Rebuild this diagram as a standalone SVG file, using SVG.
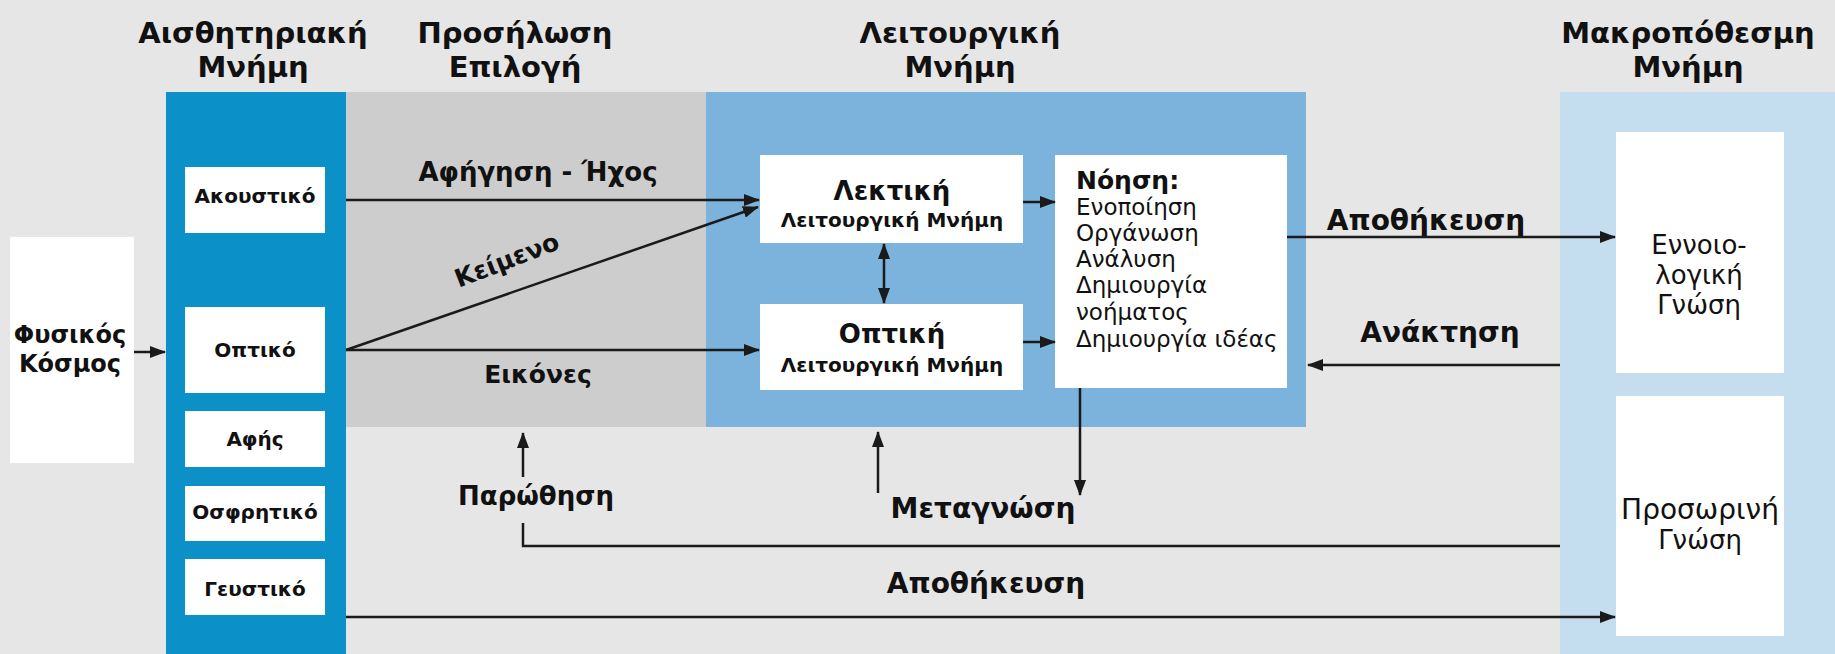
<svg xmlns="http://www.w3.org/2000/svg" width="1835" height="654" viewBox="0 0 1835 654">
<defs>
<style>
text{font-family:"DejaVu Sans","Noto Sans",sans-serif;fill:#111;}
.t{font-size:29px;font-weight:bold;text-anchor:middle;}
.lb{font-size:28px;font-weight:bold;text-anchor:middle;}
.lm{font-size:25px;font-weight:bold;text-anchor:middle;}
.sb{font-size:20px;font-weight:bold;text-anchor:middle;}
.box{fill:#ffffff;}
.c{stroke:#1a1a1a;stroke-width:2.5;fill:none;}
.a{marker-end:url(#ah);}
.n{font-size:23px;}
</style>
<marker id="ah" markerUnits="userSpaceOnUse" markerWidth="16" markerHeight="12" refX="15" refY="6" orient="auto-start-reverse">
<path d="M0,0 L16,6 L0,12 Z" fill="#1a1a1a"/>
</marker>
</defs>
<rect x="0" y="0" width="1835" height="654" fill="#e6e6e6"/>

<!-- bands -->
<rect x="346" y="92" width="360" height="335" fill="#cdcdcd"/>
<rect x="706" y="92" width="600" height="335" fill="#7cb3dc"/>
<rect x="1560" y="92" width="275" height="562" fill="#c4ddef"/>
<rect x="166" y="92" width="180" height="562" fill="#0b90c8"/>

<!-- titles -->
<g id="title-sensory"><text class="t" x="253" y="43">Αισθητηριακή</text><text class="t" x="253" y="77">Μνήμη</text></g>
<g id="title-attention"><text class="t" x="515" y="43">Προσήλωση</text><text class="t" x="515" y="77">Επιλογή</text></g>
<g id="title-working"><text class="t" x="960" y="43">Λειτουργική</text><text class="t" x="960" y="77">Μνήμη</text></g>
<g id="title-longterm"><text class="t" x="1688" y="43">Μακροπόθεσμη</text><text class="t" x="1688" y="77">Μνήμη</text></g>

<!-- nodes -->
<g id="physical-world"><rect class="box" x="10" y="237" width="124" height="226"/><text class="lm" x="70" y="343" style="font-size:24px">Φυσικός</text><text class="lm" x="70" y="372" style="font-size:24px">Κόσμος</text></g>

<g id="acoustic"><rect class="box" x="185" y="167" width="140" height="66"/><text class="sb" x="255" y="203">Ακουστικό</text></g>
<g id="visual"><rect class="box" x="185" y="307" width="140" height="86"/><text class="sb" x="255" y="357">Οπτικό</text></g>
<g id="touch"><rect class="box" x="185" y="411" width="140" height="56"/><text class="sb" x="255" y="446">Αφής</text></g>
<g id="smell"><rect class="box" x="185" y="486" width="140" height="55"/><text class="sb" x="255" y="519">Οσφρητικό</text></g>
<g id="taste"><rect class="box" x="185" y="559" width="140" height="56"/><text class="sb" x="255" y="596">Γευστικό</text></g>

<g id="verbal-wm"><rect class="box" x="760" y="155" width="263" height="88"/><text class="lm" x="892" y="200" style="font-size:26px">Λεκτική</text><text class="sb" x="892" y="227">Λειτουργική Μνήμη</text></g>
<g id="visual-wm"><rect class="box" x="760" y="304" width="263" height="86"/><text class="lm" x="892" y="343" style="font-size:26px">Οπτική</text><text class="sb" x="892" y="372">Λειτουργική Μνήμη</text></g>

<g id="cognition"><rect class="box" x="1055" y="155" width="232" height="233"/>
<text x="1076" y="189" style="font-size:25px;font-weight:bold">Νόηση:</text>
<text class="n" x="1076" y="215">Ενοποίηση</text>
<text class="n" x="1076" y="241">Οργάνωση</text>
<text class="n" x="1076" y="267">Ανάλυση</text>
<text class="n" x="1076" y="293">Δημιουργία</text>
<text class="n" x="1076" y="320">νοήματος</text>
<text class="n" x="1076" y="347">Δημιουργία ιδέας</text>
</g>

<g id="conceptual"><rect class="box" x="1616" y="132" width="168" height="241"/><text class="lm" x="1699" y="254" style="font-weight:normal;font-size:26px">Εννοιο-</text><text class="lm" x="1699" y="284" style="font-weight:normal;font-size:26px">λογική</text><text class="lm" x="1699" y="314" style="font-weight:normal;font-size:26px">Γνώση</text></g>
<g id="temporary"><rect class="box" x="1616" y="396" width="168" height="240"/><text class="lm" x="1700" y="519" style="font-weight:normal;font-size:28px">Προσωρινή</text><text class="lm" x="1700" y="549" style="font-weight:normal;font-size:26px">Γνώση</text></g>

<!-- connectors -->
<g id="connectors">
<path class="c a" d="M134,352 H165"/>
<path class="c a" d="M346,200 H759"/>
<path class="c a" d="M346,350 L758,207"/>
<path class="c a" d="M346,350 H759"/>
<path class="c a" d="M1023,202 H1055"/>
<path class="c a" d="M1023,342 H1055"/>
<path class="c a" d="M884,244 V303" style="marker-start:url(#ah)"/>
<path class="c a" d="M1287,237 H1615"/>
<path class="c a" d="M1560,365 H1308"/>
<path class="c a" d="M1080,388 V495"/>
<path class="c a" d="M878,493 V432"/>
<path class="c a" d="M523,477 V433"/>
<path class="c" d="M1560,546 H523 V523"/>
<path class="c a" d="M346,617 H1615"/>
</g>

<!-- connector labels -->
<g id="labels">
<text class="lm" x="538" y="181" style="font-size:26px">Αφήγηση - Ήχος</text>
<text class="lm" x="0" y="0" transform="translate(510,268) rotate(-21)">Κείμενο</text>
<text class="lm" x="538" y="383">Εικόνες</text>
<text class="lm" x="536" y="505" style="font-size:26px">Παρώθηση</text>
<text class="lb" x="983" y="518">Μεταγνώση</text>
<text class="lb" x="986" y="593">Αποθήκευση</text>
<text class="lb" x="1426" y="230">Αποθήκευση</text>
<text class="lb" x="1440" y="342">Ανάκτηση</text>
</g>
</svg>
